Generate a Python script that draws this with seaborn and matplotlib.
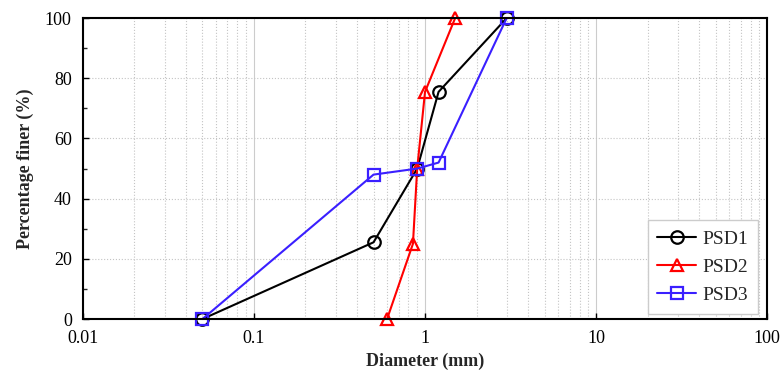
import matplotlib
matplotlib.use("Agg")
import matplotlib.pyplot as plt
import seaborn as sns
import pandas as pd
from matplotlib.ticker import LogLocator, FixedLocator, NullFormatter

sns.set_theme(style="white")
plt.rcParams['font.family'] = ['Liberation Serif', 'DejaVu Serif']

psd1_x = [0.05, 0.5, 0.9, 1.2, 3.0]
psd1_y = [0, 25.5, 50, 75.5, 100]
psd2_x = [0.6, 0.85, 0.9, 1.0, 1.5]
psd2_y = [0, 25, 50, 75.5, 100]
psd3_x = [0.05, 0.5, 0.9, 1.2, 3.0]
psd3_y = [0, 48, 50, 52, 100]

df = pd.concat([
    pd.DataFrame({"Diameter": psd1_x, "Finer": psd1_y, "Series": "PSD1"}),
    pd.DataFrame({"Diameter": psd2_x, "Finer": psd2_y, "Series": "PSD2"}),
    pd.DataFrame({"Diameter": psd3_x, "Finer": psd3_y, "Series": "PSD3"}),
])

fig = plt.figure(figsize=(7.82, 3.78), dpi=100)
ax = fig.add_axes([0.106, 0.156, 0.875, 0.796])

styles = {"PSD1": ("black", "o"), "PSD2": ("#ff0000", "^"), "PSD3": ("#3a1fff", "s")}
for name, (c, m) in styles.items():
    sub = df[df.Series == name]
    sns.lineplot(data=sub, x="Diameter", y="Finer", ax=ax, color=c, marker=m,
                 markersize=9, markerfacecolor="none", markeredgecolor=c,
                 markeredgewidth=1.6, linewidth=1.5, label=name, sort=False,
                 estimator=None, clip_on=False, zorder=5)

ax.set_xscale("log")
ax.set_xlim(0.01, 100)
ax.set_ylim(0, 100)
ax.set_yticks([0, 20, 40, 60, 80, 100])
ax.yaxis.set_minor_locator(FixedLocator([10, 30, 50, 70, 90]))
ax.set_xticks([0.01, 0.1, 1, 10, 100])
ax.set_xticklabels(["0.01", "0.1", "1", "10", "100"])
ax.xaxis.set_minor_locator(LogLocator(base=10, subs=range(2, 10)))
ax.xaxis.set_minor_formatter(NullFormatter())

ax.grid(True, which="major", axis="x", color="#cccccc", linestyle="-", linewidth=0.8)
ax.grid(True, which="minor", axis="x", color="#c4c4c4", linestyle=":", linewidth=0.8)
ax.grid(True, which="major", axis="y", color="#c4c4c4", linestyle=":", linewidth=0.8)
ax.set_axisbelow(True)

ax.tick_params(axis="both", which="major", direction="in", length=4, width=1,
               labelsize=13, colors="black", bottom=True, left=True, pad=8)
ax.tick_params(axis="y", which="minor", direction="in", length=3, width=1, left=True)
ax.tick_params(axis="x", which="minor", length=0)

for s in ax.spines.values():
    s.set_color("black")
    s.set_linewidth(1.5)
    s.set_zorder(6)

ax.set_xlabel("Diameter (mm)", fontsize=13, fontweight="bold", labelpad=4)
ax.set_ylabel("Percentage finer (%)", fontsize=13, fontweight="bold", labelpad=8)

leg = ax.legend(loc="lower right", fontsize=14, frameon=True, fancybox=False,
                edgecolor="#cccccc", handlelength=2.0, handletextpad=0.3,
                borderpad=0.5, labelspacing=0.55, borderaxespad=0.0,
                bbox_to_anchor=(0.986, 0.017), framealpha=1)
leg.get_frame().set_linewidth(1.0)
leg.set_zorder(10)

fig.savefig("out.png", dpi=100)
